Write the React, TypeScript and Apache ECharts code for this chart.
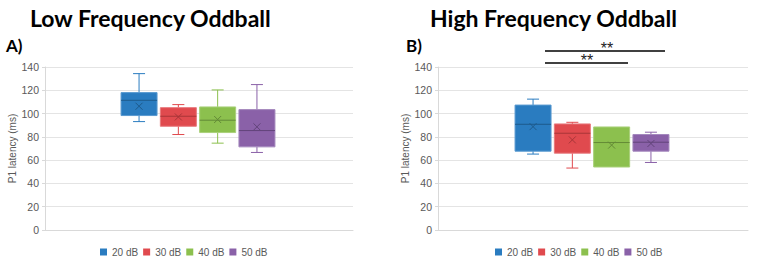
import React, { useEffect, useRef } from "react";
import * as echarts from "echarts";

const seriesNames = ["20 dB", "30 dB", "40 dB", "50 dB"];
const colors = ["#2a7cc0", "#e04a4e", "#8cc04e", "#8a61a8"];
const edgeColors = ["#5a9ad0", "#e87a7d", "#a9d07a", "#a488bd"];
const darkColors = ["#1d5a8c", "#a83538", "#638a36", "#62447a"];

// each row: [min, Q1, median, Q3, max, mean]
const lowFreq20 = [93.1, 98.3, 111.4, 118, 134.3, 106.3];
const lowFreq30 = [82, 89.1, 97.7, 105.1, 107.7, 97.1];
const lowFreq40 = [74.6, 83.7, 94.3, 105.7, 120.3, 94.9];
const lowFreq50 = [66.6, 71.4, 85.4, 103.4, 124.9, 88.6];
const highFreq20 = [65.2, 67.7, 90.8, 107.3, 112.4, 88.8];
const highFreq30 = [53.2, 66, 83.1, 91.1, 92.5, 77.4];
const highFreq40 = [54.1, 54.1, 75.1, 88.5, 88.5, 72.9];
const highFreq50 = [58, 67.7, 75.4, 82, 84, 74.3];

const panels = [
  { title: "Low Frequency Oddball", label: "A)", data: [lowFreq20, lowFreq30, lowFreq40, lowFreq50] },
  { title: "High Frequency Oddball", label: "B)", data: [highFreq20, highFreq30, highFreq40, highFreq50] },
];

const yMin = 0;
const yMax = 140;
const yInterval = 20;
const yName = "P1 latency (ms)";
const sigLabel = "**";

const FONT = "'Liberation Sans', Arial, sans-serif";
const TITLE_FONT = "Lato, 'Open Sans', sans-serif";

const BOX_W = 36;
const STRIDE = 39.3;
const CAP_W = 12;

function makeRender(idx: number) {
  return (params: any, api: any) => {
    const c = colors[idx];
    const base = api.coord([0, 0]);
    const cx = base[0] + (idx - 1.5) * STRIDE - 1;
    const y = (v: number) => api.coord([0, v])[1];
    const mn = api.value(1), q1 = api.value(2), md = api.value(3), q3 = api.value(4), mx = api.value(5), mean = api.value(6);
    const children: any[] = [];
    const ln = (x1: number, y1: number, x2: number, y2: number, stroke: string, w = 1) =>
      children.push({ type: "line", shape: { x1, y1, x2, y2 }, style: { stroke, lineWidth: w } });
    if (mx > q3) {
      ln(cx, y(q3), cx, y(mx), c);
      ln(cx - CAP_W / 2, y(mx), cx + CAP_W / 2, y(mx), c);
    }
    if (mn < q1) {
      ln(cx, y(q1), cx, y(mn), c);
      ln(cx - CAP_W / 2, y(mn), cx + CAP_W / 2, y(mn), c);
    }
    children.push({
      type: "rect",
      shape: { x: cx - BOX_W / 2, y: y(q3), width: BOX_W, height: y(q1) - y(q3) },
      style: { fill: c, stroke: edgeColors[idx], lineWidth: 1 },
    });
    ln(cx - BOX_W / 2, y(md), cx + BOX_W / 2, y(md), darkColors[idx], 1);
    const ym = y(mean);
    ln(cx - 3.5, ym - 3.5, cx + 3.5, ym + 3.5, darkColors[idx], 1);
    ln(cx - 3.5, ym + 3.5, cx + 3.5, ym - 3.5, darkColors[idx], 1);
    return { type: "group", children };
  };
}

export default function App() {
  const ref = useRef<HTMLDivElement>(null);
  useEffect(() => {
    if (!ref.current) return;
    const chart = echarts.init(ref.current, undefined, { renderer: "svg" });
    const grids = [
      { left: 45, top: 67, width: 308, height: 163 },
      { left: 438, top: 67, width: 310, height: 163 },
    ];
    const xAxis = grids.map((_, gi) => ({
      type: "category",
      gridIndex: gi,
      data: [""],
      axisLine: { show: true, lineStyle: { color: "#d9d9d9" } },
      axisTick: { show: false },
      axisLabel: { show: false },
    }));
    const yAxis = grids.map((_, gi) => ({
      type: "value",
      gridIndex: gi,
      min: yMin,
      max: yMax,
      interval: yInterval,
      name: yName,
      nameLocation: "middle",
      nameGap: 28,
      nameTextStyle: { fontFamily: FONT, fontSize: 10, color: "#595959" },
      axisLine: { show: true, lineStyle: { color: "#d9d9d9" } },
      axisTick: { show: true, length: 3, lineStyle: { color: "#d9d9d9" } },
      axisLabel: { fontFamily: FONT, fontSize: 10.5, color: "#595959", margin: 6 },
      splitLine: { lineStyle: { color: "#e4e4e4" } },
    }));
    const series: any[] = [];
    panels.forEach((p, gi) => {
      p.data.forEach((row, si) => {
        series.push({
          type: "custom",
          name: seriesNames[si],
          xAxisIndex: gi,
          yAxisIndex: gi,
          itemStyle: { color: colors[si] },
          encode: { x: 0, y: [1, 2, 3, 4, 5, 6] },
          data: [[0, ...row]],
          renderItem: makeRender(si),
        });
      });
    });
    const legends = [100, 495].map((left) => ({
      left,
      top: 247,
      padding: 0,
      icon: "rect",
      itemWidth: 7,
      itemHeight: 7,
      itemGap: 5,
      textStyle: { fontFamily: FONT, fontSize: 10, color: "#595959" },
      data: seriesNames,
    }));
    const graphic: any[] = [
      { type: "text", x: 30, y: 18, style: { text: panels[0].title, font: `bold 23px ${TITLE_FONT}`, fill: "#000", textVerticalAlign: "middle" } },
      { type: "text", x: 430, y: 18, style: { text: panels[1].title, font: `bold 23px ${TITLE_FONT}`, fill: "#000", textVerticalAlign: "middle" } },
      { type: "text", x: 6, y: 45, style: { text: panels[0].label, font: `bold 17px ${TITLE_FONT}`, fill: "#000", textVerticalAlign: "middle" } },
      { type: "text", x: 406, y: 45, style: { text: panels[1].label, font: `bold 17px ${TITLE_FONT}`, fill: "#000", textVerticalAlign: "middle" } },
      { type: "line", shape: { x1: 545, y1: 51, x2: 665, y2: 51 }, style: { stroke: "#000", lineWidth: 1.5 } },
      { type: "line", shape: { x1: 545, y1: 63, x2: 628, y2: 63 }, style: { stroke: "#000", lineWidth: 1.5 } },
      { type: "text", x: 607, y: 48, style: { text: sigLabel, font: `16px ${FONT}`, fill: "#222", textAlign: "center", textVerticalAlign: "middle" } },
      { type: "text", x: 587, y: 60, style: { text: sigLabel, font: `16px ${FONT}`, fill: "#222", textAlign: "center", textVerticalAlign: "middle" } },
    ];
    chart.setOption({
      animation: false,
      grid: grids,
      xAxis,
      yAxis,
      legend: legends,
      series,
      graphic,
    });
    return () => chart.dispose();
  }, []);
  return <div ref={ref} style={{ position: "fixed", left: 0, top: 0, width: 760, height: 265, background: "#fff" }} />;
}
